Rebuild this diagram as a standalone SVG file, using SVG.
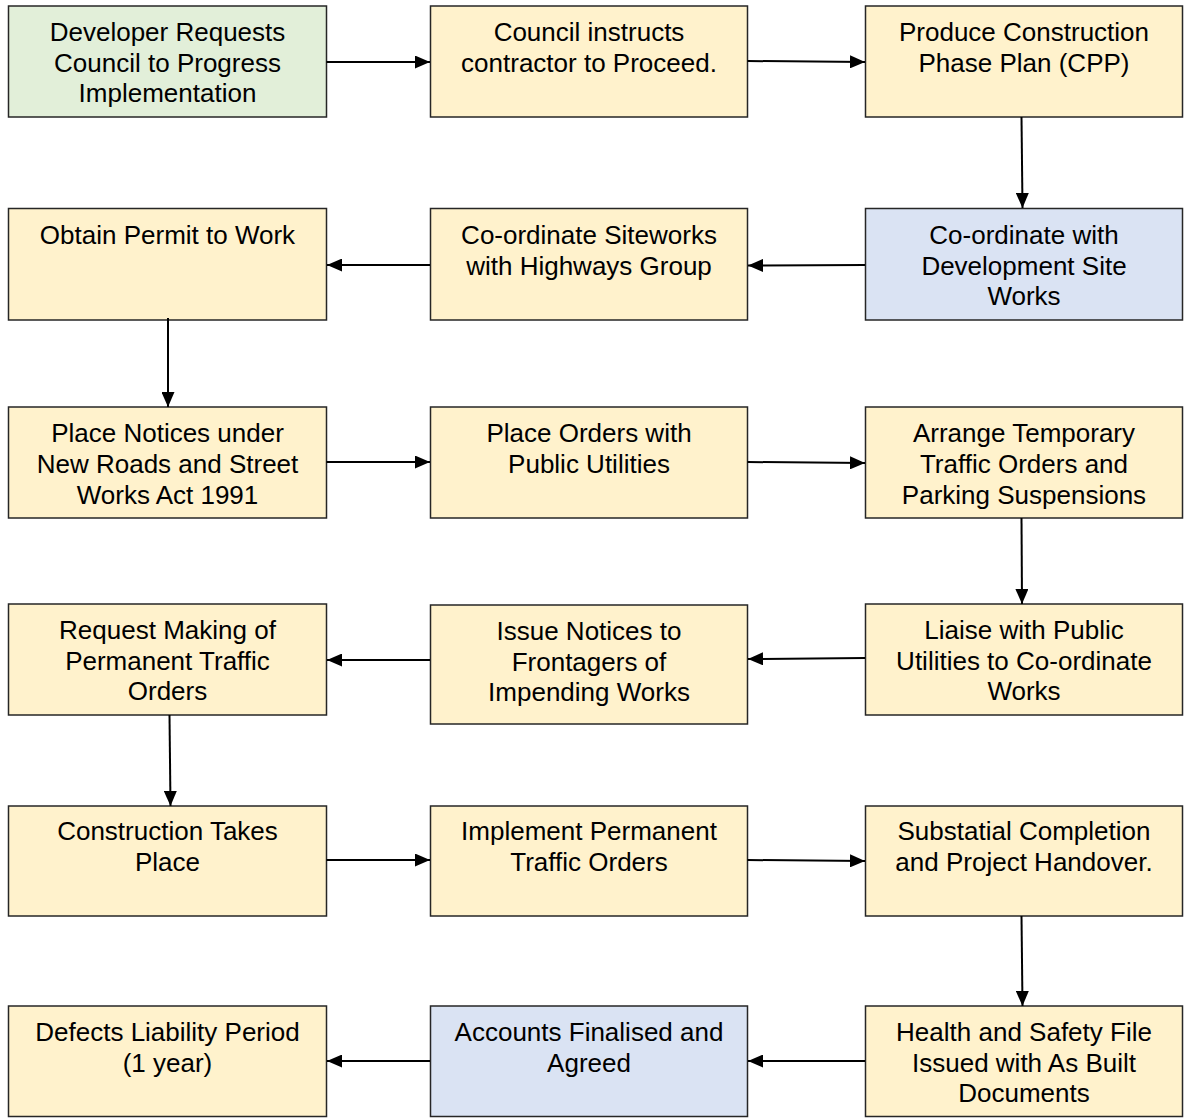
<svg xmlns="http://www.w3.org/2000/svg" width="1194" height="1118" viewBox="0 0 1194 1118">
  <defs>
    <marker id="arrow" viewBox="0 0 15 13" refX="15" refY="6.5" markerWidth="15" markerHeight="13" markerUnits="userSpaceOnUse" orient="auto">
      <path d="M0,0 L15,6.5 L0,13 Z" fill="#000"/>
    </marker>
    <style>
      .box { stroke: #262626; stroke-width: 1.5; }
      .green { fill: #e2efd9; }
      .yellow { fill: #fff2cc; }
      .blue { fill: #dae3f3; }
      text { font-family: "Liberation Sans", Arial, sans-serif; font-size: 26px; fill: #000; text-anchor: middle; }
      .conn line { stroke: #000; stroke-width: 2; marker-end: url(#arrow); }
    </style>
  </defs>
  <rect x="0" y="0" width="1194" height="1118" fill="#fff"/>

  <!-- Row 1 -->
  <g id="n1"><rect class="box green" x="8.5" y="6" width="318" height="111"/>
    <text><tspan x="167.5" y="41">Developer Requests</tspan><tspan x="167.5" y="72">Council to Progress</tspan><tspan x="167.5" y="102">Implementation</tspan></text></g>
  <g id="n2"><rect class="box yellow" x="430.5" y="6" width="317" height="111"/>
    <text><tspan x="589" y="41">Council instructs</tspan><tspan x="589" y="72">contractor to Proceed.</tspan></text></g>
  <g id="n3"><rect class="box yellow" x="865.5" y="6" width="317" height="111"/>
    <text><tspan x="1024" y="41">Produce Construction</tspan><tspan x="1024" y="72">Phase Plan (CPP)</tspan></text></g>

  <!-- Row 2 -->
  <g id="n4"><rect class="box blue" x="865.5" y="208.5" width="317" height="111.5"/>
    <text><tspan x="1024" y="243.5">Co-ordinate with</tspan><tspan x="1024" y="274.5">Development Site</tspan><tspan x="1024" y="305">Works</tspan></text></g>
  <g id="n5"><rect class="box yellow" x="430.5" y="208.5" width="317" height="111.5"/>
    <text><tspan x="589" y="243.5">Co-ordinate Siteworks</tspan><tspan x="589" y="274.5">with Highways Group</tspan></text></g>
  <g id="n6"><rect class="box yellow" x="8.5" y="208.5" width="318" height="111.5"/>
    <text><tspan x="167.5" y="243.5">Obtain Permit to Work</tspan></text></g>

  <!-- Row 3 -->
  <g id="n7"><rect class="box yellow" x="8.5" y="407" width="318" height="111"/>
    <text><tspan x="167.5" y="442">Place Notices under</tspan><tspan x="167.5" y="473">New Roads and Street</tspan><tspan x="167.5" y="503.5">Works Act 1991</tspan></text></g>
  <g id="n8"><rect class="box yellow" x="430.5" y="407" width="317" height="111"/>
    <text><tspan x="589" y="442">Place Orders with</tspan><tspan x="589" y="473">Public Utilities</tspan></text></g>
  <g id="n9"><rect class="box yellow" x="865.5" y="407" width="317" height="111"/>
    <text><tspan x="1024" y="442">Arrange Temporary</tspan><tspan x="1024" y="473">Traffic Orders and</tspan><tspan x="1024" y="503.5">Parking Suspensions</tspan></text></g>

  <!-- Row 4 -->
  <g id="n10"><rect class="box yellow" x="865.5" y="604" width="317" height="111"/>
    <text><tspan x="1024" y="639">Liaise with Public</tspan><tspan x="1024" y="670">Utilities to Co-ordinate</tspan><tspan x="1024" y="700">Works</tspan></text></g>
  <g id="n11"><rect class="box yellow" x="430.5" y="605" width="317" height="119"/>
    <text><tspan x="589" y="640">Issue Notices to</tspan><tspan x="589" y="670.5">Frontagers of</tspan><tspan x="589" y="701">Impending Works</tspan></text></g>
  <g id="n12"><rect class="box yellow" x="8.5" y="604" width="318" height="111"/>
    <text><tspan x="167.5" y="639">Request Making of</tspan><tspan x="167.5" y="670">Permanent Traffic</tspan><tspan x="167.5" y="700">Orders</tspan></text></g>

  <!-- Row 5 -->
  <g id="n13"><rect class="box yellow" x="8.5" y="806" width="318" height="110"/>
    <text><tspan x="167.5" y="840">Construction Takes</tspan><tspan x="167.5" y="871">Place</tspan></text></g>
  <g id="n14"><rect class="box yellow" x="430.5" y="806" width="317" height="110"/>
    <text><tspan x="589" y="840">Implement Permanent</tspan><tspan x="589" y="871">Traffic Orders</tspan></text></g>
  <g id="n15"><rect class="box yellow" x="865.5" y="806" width="317" height="110"/>
    <text><tspan x="1024" y="840">Substatial Completion</tspan><tspan x="1024" y="871">and Project Handover.</tspan></text></g>

  <!-- Row 6 -->
  <g id="n16"><rect class="box yellow" x="865.5" y="1006" width="317" height="110.5"/>
    <text><tspan x="1024" y="1041">Health and Safety File</tspan><tspan x="1024" y="1072">Issued with As Built</tspan><tspan x="1024" y="1102">Documents</tspan></text></g>
  <g id="n17"><rect class="box blue" x="430.5" y="1006" width="317" height="110.5"/>
    <text><tspan x="589" y="1041">Accounts Finalised and</tspan><tspan x="589" y="1072">Agreed</tspan></text></g>
  <g id="n18"><rect class="box yellow" x="8.5" y="1006" width="318" height="110.5"/>
    <text><tspan x="167.5" y="1041">Defects Liability Period</tspan><tspan x="167.5" y="1072">(1 year)</tspan></text></g>

  <!-- Connectors -->
  <g id="connectors" class="conn">
    <line x1="326.5" y1="62" x2="430" y2="62"/>
    <line x1="747.5" y1="61" x2="865" y2="62"/>
    <line x1="1021.5" y1="117" x2="1022.5" y2="208"/>
    <line x1="865" y1="265" x2="748" y2="265.5"/>
    <line x1="430" y1="265" x2="327" y2="265"/>
    <line x1="168" y1="318" x2="168" y2="407"/>
    <line x1="326.5" y1="462" x2="430" y2="462"/>
    <line x1="747.5" y1="462" x2="865" y2="463"/>
    <line x1="1021.5" y1="518" x2="1022" y2="604"/>
    <line x1="865" y1="658" x2="748" y2="659"/>
    <line x1="430" y1="660" x2="327" y2="660"/>
    <line x1="169.5" y1="715" x2="170.5" y2="806"/>
    <line x1="326.5" y1="860" x2="430" y2="860"/>
    <line x1="747.5" y1="860" x2="865" y2="861"/>
    <line x1="1021.5" y1="916" x2="1022.5" y2="1006"/>
    <line x1="865" y1="1061" x2="748" y2="1061"/>
    <line x1="430" y1="1061" x2="327" y2="1061"/>
  </g>
</svg>
